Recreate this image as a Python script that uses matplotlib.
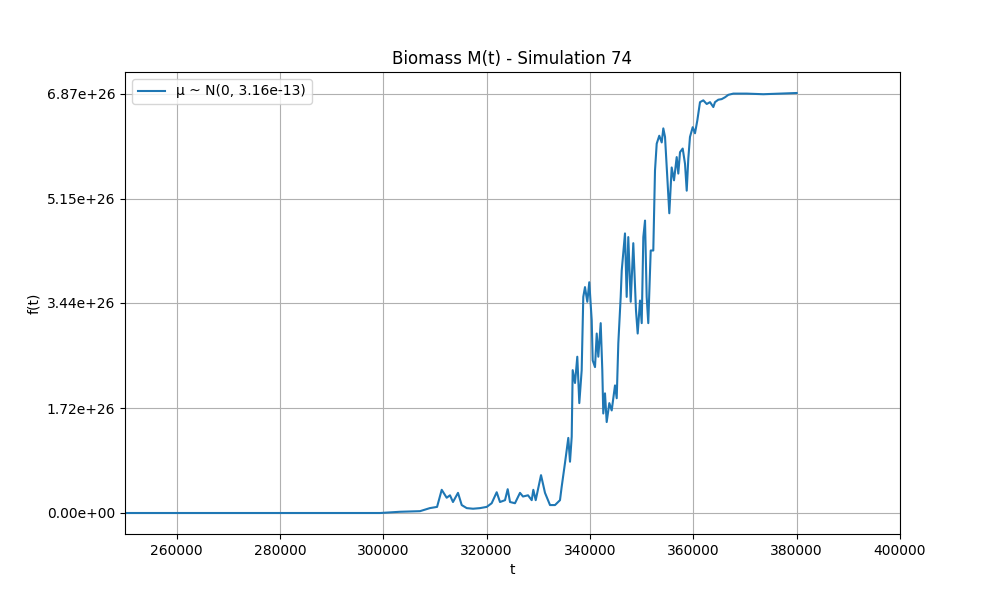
import matplotlib
matplotlib.use("Agg")
import matplotlib.pyplot as plt

# Biomass trajectory (t, f in units of 1e26)
t = [250000, 299400, 303200, 307100, 309000, 310400, 311300, 312260, 312900, 313480,
     314450, 315170, 316140, 317360, 318710, 320010, 320970, 321940, 322580, 323550,
     324070, 324520, 325480, 326450, 327030, 328000, 328720, 329030, 329490, 330520,
     331290, 332260, 333230, 334190, 334520, 335160, 335490, 335800, 336130, 336460,
     336650, 337100, 337540, 337930, 338390, 338700, 339030, 339480, 339860, 340330,
     340520, 340970, 341300, 341610, 342070, 342380, 342570, 342900, 343230, 343740,
     344200, 344840, 345170, 345480, 345940, 346140, 346770, 347100, 347410, 347880,
     348380, 348900, 349230, 349680, 350010, 350320, 350650, 350970, 351280, 351750,
     352250, 352580, 352910, 353410, 353880, 354190, 354520, 354960, 355350, 355810,
     356260, 356780, 357090, 357420, 357940, 358390, 358720, 359030, 359350, 359880,
     360320, 360770, 361290, 361930, 362590, 363230, 363870, 364190, 364830, 365490,
     366130, 366770, 367740, 370320, 373540, 376770, 380000]
f = [0.00, 0.00, 0.02, 0.03, 0.08, 0.10, 0.38, 0.25, 0.29, 0.18,
     0.33, 0.13, 0.08, 0.07, 0.08, 0.10, 0.16, 0.34, 0.18, 0.21,
     0.39, 0.18, 0.16, 0.33, 0.27, 0.29, 0.21, 0.38, 0.21, 0.62,
     0.33, 0.13, 0.13, 0.21, 0.43, 0.82, 1.03, 1.23, 0.84, 1.25,
     2.34, 2.13, 2.56, 1.80, 2.34, 3.54, 3.70, 3.46, 3.78, 3.16,
     2.50, 2.39, 2.94, 2.56, 3.11, 2.34, 1.63, 1.96, 1.49, 1.80,
     1.68, 2.09, 1.88, 2.78, 3.54, 3.97, 4.58, 3.54, 4.52, 3.46,
     4.42, 3.32, 2.94, 3.48, 3.11, 4.52, 4.79, 3.54, 3.11, 4.30,
     4.30, 5.61, 6.05, 6.18, 6.07, 6.30, 6.16, 5.50, 4.91, 5.66,
     5.45, 5.83, 5.56, 5.91, 5.97, 5.72, 5.28, 5.81, 6.16, 6.32,
     6.22, 6.43, 6.73, 6.76, 6.70, 6.73, 6.65, 6.73, 6.77, 6.78,
     6.81, 6.85, 6.87, 6.87, 6.86, 6.87, 6.88]
f = [v * 1e26 for v in f]

yticks = [0.0, 1.72e26, 3.44e26, 5.15e26, 6.87e26]
ylabels = ["0.00e+00", "1.72e+26", "3.44e+26", "5.15e+26", "6.87e+26"]

fig, ax = plt.subplots(figsize=(10, 6), dpi=100)
ax.plot(t, f, color="#1f77b4", label="μ ~ N(0, 3.16e-13)")
ax.set_xlim(250000, 400000)
ax.ticklabel_format(axis="x", style="plain", useOffset=False)
ax.set_yticks(yticks)
ax.set_yticklabels(ylabels)
ax.set_title("Biomass M(t) - Simulation 74")
ax.set_xlabel("t")
ax.set_ylabel("f(t)")
ax.grid(True)
ax.legend(loc="upper left")
plt.savefig("out.png")
